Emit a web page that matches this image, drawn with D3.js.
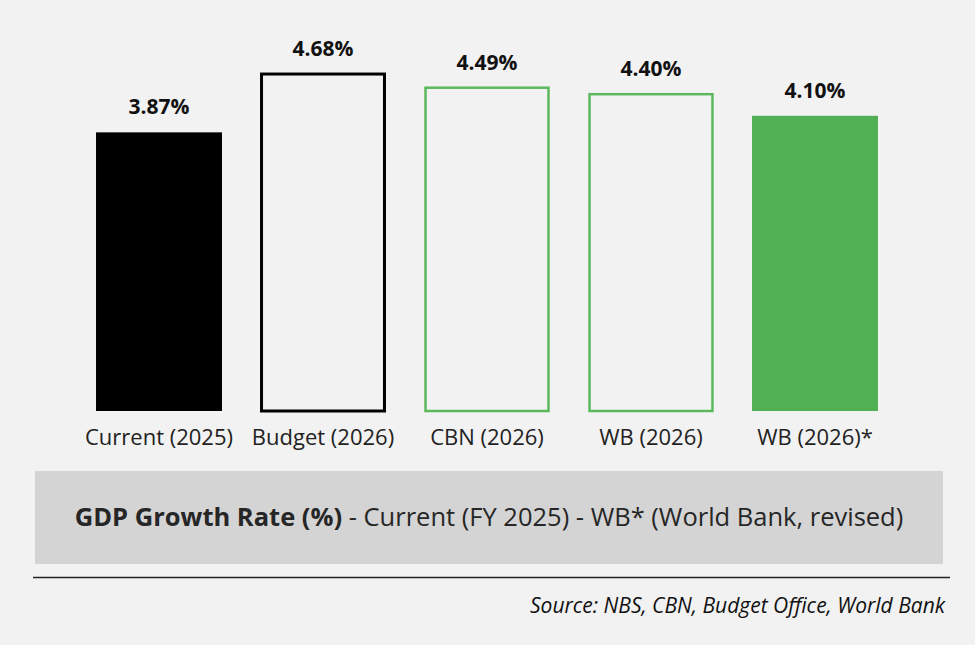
<!DOCTYPE html>
<html><head><meta charset="utf-8">
<script src="https://cdn.jsdelivr.net/npm/d3@7"></script>
<style>html,body{margin:0;padding:0;background:#f2f2f2;}svg{display:block;}</style>
</head><body>
<script>
const categories = ["Current (2025)", "Budget (2026)", "CBN (2026)", "WB (2026)", "WB (2026)*"];
const values = [3.87, 4.68, 4.49, 4.40, 4.10];
const valueLabels = ["3.87%", "4.68%", "4.49%", "4.40%", "4.10%"];
const fills = ["#000000", "none", "none", "none", "#52b054"];
const strokes = ["none", "#000000", "#5cb85c", "#5cb85c", "none"];

const W = 975, H = 645;
const svg = d3.select("body").append("svg").attr("width", W).attr("height", H);
svg.append("rect").attr("width", W).attr("height", H).attr("fill", "#f2f2f2");

const font = "'Open Sans', sans-serif";
const x = d3.scaleBand().domain(categories).range([77, 897]).paddingInner(0.232).paddingOuter(0.116);
const y = d3.scaleLinear().domain([0, 5]).range([411, 51]);

const g = svg.append("g");
g.selectAll("rect.bar").data(values).join("rect")
  .attr("class", "bar")
  .attr("x", (d, i) => x(categories[i]) + (strokes[i] !== "none" ? 1.5 : 0))
  .attr("width", (d, i) => x.bandwidth() - (strokes[i] !== "none" ? 3 : 0))
  .attr("y", d => y(d))
  .attr("height", d => y(0) - y(d))
  .attr("fill", (d, i) => fills[i])
  .attr("stroke", (d, i) => strokes[i])
  .attr("stroke-width", (d, i) => i === 1 ? 3 : 2.5);

g.selectAll("text.val").data(values).join("text")
  .attr("class", "val")
  .attr("x", (d, i) => x(categories[i]) + x.bandwidth() / 2)
  .attr("y", d => y(d) - 18)
  .attr("text-anchor", "middle")
  .attr("font-family", font).attr("font-weight", 700).attr("font-size", 21)
  .attr("fill", "#111")
  .text((d, i) => valueLabels[i]);

const xAxis = svg.append("g").attr("transform", `translate(0,${y(0)})`)
  .call(d3.axisBottom(x).tickSize(0).tickPadding(18));
xAxis.select(".domain").remove();
xAxis.selectAll("text").attr("font-family", font).attr("font-size", 22).attr("fill", "#222");

// title box
svg.append("rect").attr("x", 35).attr("y", 471).attr("width", 908).attr("height", 93).attr("fill", "#d4d4d4");
const t = svg.append("text").attr("x", 489).attr("y", 526).attr("text-anchor", "middle")
  .attr("font-family", font).attr("font-size", 25.5).attr("fill", "#262626");
t.append("tspan").attr("font-weight", 700).text("GDP Growth Rate (%)");
t.append("tspan").text(" - Current (FY 2025) - WB* (World Bank, revised)");

svg.append("line").attr("x1", 33).attr("x2", 950).attr("y1", 577.5).attr("y2", 577.5)
  .attr("stroke", "#222").attr("stroke-width", 1.6);

svg.append("text").attr("x", 945).attr("y", 613).attr("text-anchor", "end")
  .attr("font-family", font).attr("font-style", "italic").attr("font-size", 21).attr("fill", "#111")
  .text("Source: NBS, CBN, Budget Office, World Bank");
</script>
</body></html>
